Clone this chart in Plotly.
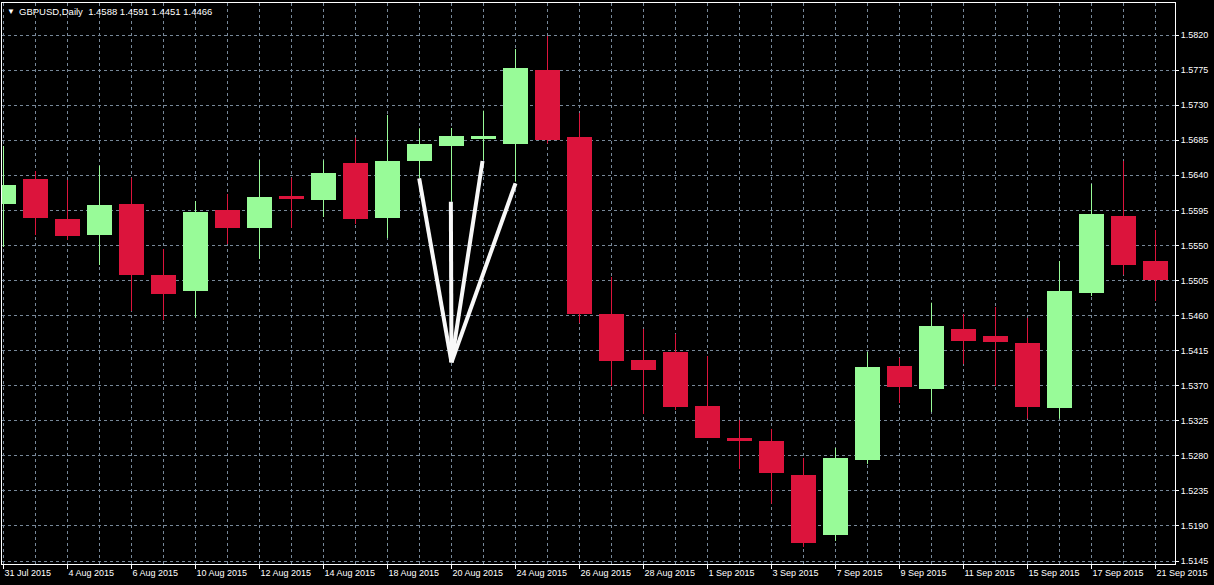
import plotly.graph_objects as go

# ---------------- data ----------------
dates = ["31 Jul 2015", "3 Aug 2015", "4 Aug 2015", "5 Aug 2015", "6 Aug 2015", "7 Aug 2015",
         "10 Aug 2015", "11 Aug 2015", "12 Aug 2015", "13 Aug 2015", "14 Aug 2015",
         "17 Aug 2015", "18 Aug 2015", "19 Aug 2015", "20 Aug 2015", "21 Aug 2015",
         "24 Aug 2015", "25 Aug 2015", "26 Aug 2015", "27 Aug 2015", "28 Aug 2015",
         "31 Aug 2015", "1 Sep 2015", "2 Sep 2015", "3 Sep 2015", "4 Sep 2015",
         "7 Sep 2015", "8 Sep 2015", "9 Sep 2015", "10 Sep 2015", "11 Sep 2015",
         "14 Sep 2015", "15 Sep 2015", "16 Sep 2015", "17 Sep 2015", "18 Sep 2015",
         "21 Sep 2015"]
opens = [1.56035, 1.56352, 1.55839, 1.55634, 1.56032, 1.55121, 1.54915, 1.55955, 1.55724, 1.56134,
         1.56083, 1.56558, 1.55852, 1.56583, 1.56776, 1.56869, 1.56801, 1.57751, 1.56891, 1.54620,
         1.54030, 1.54133, 1.53440, 1.53029, 1.52991, 1.52554, 1.51785, 1.52747, 1.53953, 1.53658,
         1.54428, 1.54338, 1.54248, 1.53414, 1.54890, 1.55878, 1.55300]
highs = [1.56776, 1.56455, 1.56340, 1.56523, 1.56369, 1.55454, 1.56070, 1.56160, 1.56596, 1.56369,
         1.56592, 1.56882, 1.57174, 1.57003, 1.57007, 1.57229, 1.58020, 1.58187, 1.57199, 1.55095,
         1.54428, 1.54364, 1.54081, 1.53260, 1.53145, 1.52773, 1.52901, 1.54133, 1.54056, 1.54765,
         1.54620, 1.54710, 1.54569, 1.55300, 1.56288, 1.56583, 1.55698]
lows = [1.55480, 1.55634, 1.55570, 1.55249, 1.54659, 1.54543, 1.54573, 1.55518, 1.55326, 1.55724,
        1.55865, 1.55775, 1.55595, 1.56365, 1.56061, 1.56596, 1.56318, 1.56810, 1.54505, 1.53696,
        1.53337, 1.53388, 1.53029, 1.52631, 1.52186, 1.51631, 1.51708, 1.52696, 1.53478, 1.53363,
        1.53979, 1.53696, 1.53277, 1.53277, 1.54851, 1.55124, 1.54787]
closes = [1.56275, 1.55856, 1.55621, 1.56019, 1.55121, 1.54877, 1.55929, 1.55724, 1.56121, 1.56096,
          1.56429, 1.55839, 1.56583, 1.56801, 1.56904, 1.56904, 1.57777, 1.56853, 1.54620, 1.54017,
          1.53902, 1.53427, 1.53033, 1.52991, 1.52580, 1.51682, 1.52773, 1.53940, 1.53684, 1.54466,
          1.54274, 1.54261, 1.53427, 1.54915, 1.55903, 1.55249, 1.55056]
price_ticks = [1.5145, 1.5190, 1.5235, 1.5280, 1.5325, 1.5370, 1.5415, 1.5460, 1.5505,
               1.5550, 1.5595, 1.5640, 1.5685, 1.5730, 1.5775, 1.5820]
label_every = 2
month_starts = ["3 Aug 2015", "1 Sep 2015"]
title_text = "GBPUSD,Daily\u00a0\u00a01.4588 1.4591 1.4451 1.4466"
# hand-drawn arrow lines (candle index, price)
arrow_start_x = [12.99, 13.98, 14.97, 16.0]
arrow_start_y = [1.56361, 1.56061, 1.56583, 1.56297]
arrow_tip = (14.0, 1.5400)

# ---------------- style ----------------
UP = "#98FB98"
DOWN = "#DC143C"
GRID = "#778899"
FONT = "Liberation Sans"
BODY_W = 0.78

idx = list(range(len(dates)))
up_i = [i for i in idx if closes[i] >= opens[i]]
dn_i = [i for i in idx if closes[i] < opens[i]]

fig = go.Figure()

def wick_xy(ids):
    xs, ys = [], []
    for i in ids:
        xs += [i, i, None]
        ys += [lows[i], highs[i], None]
    return xs, ys

for ids, col in ((up_i, UP), (dn_i, DOWN)):
    wx, wy = wick_xy(ids)
    fig.add_trace(go.Scatter(x=wx, y=wy, mode="lines", line=dict(color=col, width=1),
                             hoverinfo="skip", showlegend=False))
    fig.add_trace(go.Bar(x=ids,
                         y=[abs(closes[i] - opens[i]) for i in ids],
                         base=[min(opens[i], closes[i]) for i in ids],
                         width=BODY_W, marker=dict(color=col, line=dict(width=0)),
                         showlegend=False))

# arrow drawing
for sx, sy in zip(arrow_start_x, arrow_start_y):
    fig.add_trace(go.Scatter(x=[sx, arrow_tip[0]], y=[sy, arrow_tip[1]], mode="lines",
                             line=dict(color="#F8F8F8", width=4), hoverinfo="skip",
                             showlegend=False))

# month separators
for d in month_starts:
    fig.add_shape(type="line", xref="x", yref="paper", x0=dates.index(d), x1=dates.index(d),
                  y0=0, y1=1, line=dict(color="white", width=1, dash="3px,3px"), layer="between")

# plot geometry
W, H = 1214, 585
ml, mr, mt, mb = 2, 39, 3, 21
px_per_candle = 32
x0 = -1.5 / px_per_candle
x1 = x0 + (W - ml - mr) / px_per_candle
px_per_step = 35.07
step = 0.0045
y_top = 1.5820 + 32 / px_per_step * step
y_bot = 1.5820 - 529 / px_per_step * step

fig.add_annotation(x=0, y=1, xref="paper", yref="paper", xshift=3, yshift=-2,
                   text="\u25BC", showarrow=False, xanchor="left", yanchor="top",
                   font=dict(family=FONT, size=8, color="white"))
fig.add_annotation(x=0, y=1, xref="paper", yref="paper", xshift=15, yshift=-1,
                   text=title_text, showarrow=False, xanchor="left", yanchor="top",
                   font=dict(family=FONT, size=9.5, color="white"))

fig.update_layout(
    width=W, height=H,
    margin=dict(l=ml, r=mr, t=mt, b=mb),
    paper_bgcolor="black", plot_bgcolor="black",
    barmode="overlay", bargap=0,
    showlegend=False,
    font=dict(family=FONT, size=9, color="white"),
    xaxis=dict(range=[x0, x1], tickmode="array",
               tickvals=idx[::label_every], ticktext=dates[::label_every],
               ticks="outside", ticklen=4, tickcolor="white", tickwidth=1,
               ticklabelposition="outside right",
               showgrid=True, gridcolor=GRID, gridwidth=1, griddash="3px,3px",
               minor=dict(tickmode="linear", tick0=0, dtick=1, showgrid=True,
                          gridcolor=GRID, gridwidth=1, griddash="3px,3px", ticks=""),
               showline=True, linecolor="white", linewidth=1, mirror=True,
               zeroline=False, fixedrange=True,
               tickfont=dict(family=FONT, size=9, color="white")),
    yaxis=dict(range=[y_bot, y_top], side="right", tickmode="array",
               tickvals=price_ticks, ticktext=[f"{v:.4f}" for v in price_ticks],
               ticks="outside", ticklen=3, tickcolor="white", tickwidth=1,
               showgrid=True, gridcolor=GRID, gridwidth=1, griddash="3px,3px",
               showline=True, linecolor="white", linewidth=1, mirror=True,
               zeroline=False, fixedrange=True,
               tickfont=dict(family=FONT, size=9, color="white")),
)

fig.write_html("out.html", config={"displayModeBar": False},
               post_script="document.body.style.margin='0';document.body.style.background='black';")
